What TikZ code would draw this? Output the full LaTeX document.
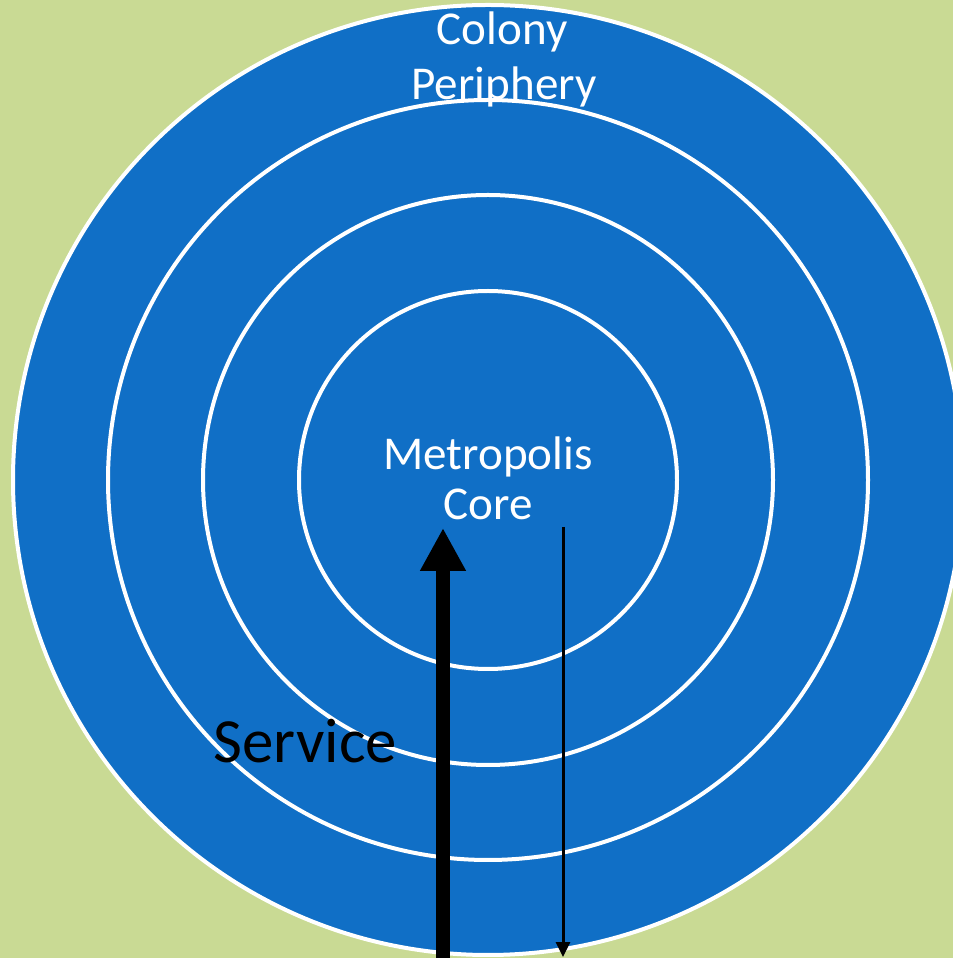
\documentclass[tikz,border=0pt]{standalone}
\usepackage{fontspec}
\setmainfont{Carlito}
\usepackage{xcolor}
\usetikzlibrary{arrows.meta, positioning}

\definecolor{ringblue}{RGB}{16,111,198}
\definecolor{fieldgreen}{RGB}{201,218,148}

\tikzset{
	ring/.style={fill=ringblue, draw=white, line width=0.04cm},
	ringlabel/.style={text=white, font=\fontsize{13.4}{16}\selectfont, anchor=base, inner sep=0pt},
	flowlabel/.style={text=black, font=\fontsize{17.9}{21}\selectfont, anchor=base west, inner sep=0pt}
}

\begin{document}
\begin{tikzpicture}
		\useasboundingbox (0,0) rectangle (9.53,9.58);
		\clip (0,0) rectangle (9.53,9.58);
		\fill[fieldgreen] (0,0) rectangle (9.53,9.58);
		
		% Rings
		\coordinate (centre) at (4.88,4.78);
		\draw[ring] (centre) circle (4.75);
		\draw[ring] (centre) circle (3.80);
		\draw[ring] (centre) circle (2.85);
		\draw[ring] (centre) circle (1.89);
		
		% Labels
		\node[ringlabel] (colony) at (5.02,9.13) {Colony};
		\node[ringlabel] (periphery) at (5.04,8.58) {Periphery};
		\node[ringlabel] (metropolis) at (4.88,4.88) {Metropolis};
		\node[ringlabel] (core) at (4.88,4.38) {Core};
		\node[flowlabel] (service) at (2.13,1.95) {Service};
		
		% Flows
		\coordinate (service-start) at (4.43,-0.05);
		\coordinate (service-end) at (4.43,4.30);
		\coordinate (return-start) at (5.63,4.31);
		\coordinate (return-end) at (5.63,0.01);
		
		\draw[line width=0.14cm, -{Triangle[width=0.43cm, length=0.43cm]}] (service-start) -- (service-end);
		\draw[line width=0.03cm, -{Triangle[width=0.14cm, length=0.15cm]}] (return-start) -- (return-end);
	\end{tikzpicture}
\end{document}
